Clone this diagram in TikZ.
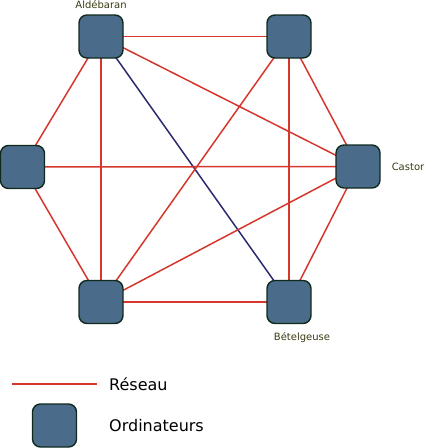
\documentclass[tikz,border=0pt]{standalone}
\usepackage{fontspec}
\setmainfont{DejaVu Sans}
\definecolor{netRed}{HTML}{D6372C}
\definecolor{netNavy}{HTML}{2C2A6E}
\definecolor{hostFill}{HTML}{4A6B8A}
\definecolor{hostEdge}{HTML}{102A1E}
\definecolor{labelInk}{HTML}{3A3A12}
\usetikzlibrary{positioning, backgrounds}

\begin{document}
\begin{tikzpicture}[
        x=1pt, y=-1pt,
        host/.style={
          rounded corners=8pt,
          draw=hostEdge,
          fill=hostFill,
          minimum width=44pt,
          minimum height=43pt,
          line width=1.4pt,
        },
        link/.style={netRed, line width=1.5pt},
        navylink/.style={netNavy, line width=1.5pt},
        hostlabel/.style={text=labelInk, font=\fontsize{10}{12}\selectfont, inner sep=0pt},
        legendtext/.style={text=black, font=\fontsize{16}{19}\selectfont, inner sep=0pt, anchor=west},
      ]
        \useasboundingbox (0,0) rectangle (424,448);

        \node[host] (alde) at (101,36.5) {};
        \node[host] (topr) at (289,36.5) {};
        \node[host] (left) at (22.5,167) {};
        \node[host] (cast) at (358,166.5) {};
        \node[host] (botl) at (101,302) {};
        \node[host] (bete) at (289,302) {};

        \node[hostlabel] (aldeLbl) at (101,5) {Aldébaran};
        \node[hostlabel] (castLbl) at (408,167) {Castor};
        \node[hostlabel] (beteLbl) at (302,338) {Bételgeuse};

        \begin{scope}[on background layer]
          \draw[link] (alde.center) -- (topr.center);
          \draw[link] (alde.center) -- (left.center);
          \draw[link] (alde.center) -- (botl.center);
          \draw[link] (alde.center) -- (cast.center);
          \draw[navylink] (alde.center) -- (bete.center);
          \draw[link] (topr.center) -- (cast.center);
          \draw[link] (topr.center) -- (bete.center);
          \draw[link] (topr.center) -- (botl.center);
          \draw[link] (left.center) -- (cast.center);
          \draw[link] (left.center) -- (botl.center);
          \draw[link] (botl.center) -- (bete.center);
          \draw[link] (botl.center) -- (cast.center);
          \draw[link] (bete.center) -- (cast.center);
        \end{scope}

        % legend
        \coordinate (keyA) at (12,384);
        \coordinate (keyB) at (97,384);
        \draw[link] (keyA) -- (keyB);
        \node[legendtext] (netTxt) at (109,384) {Réseau};
        \node[host] (keyHost) at (54.5,425.5) {};
        \node[legendtext] (hostTxt) at (109,426) {Ordinateurs};
      \end{tikzpicture}
\end{document}
